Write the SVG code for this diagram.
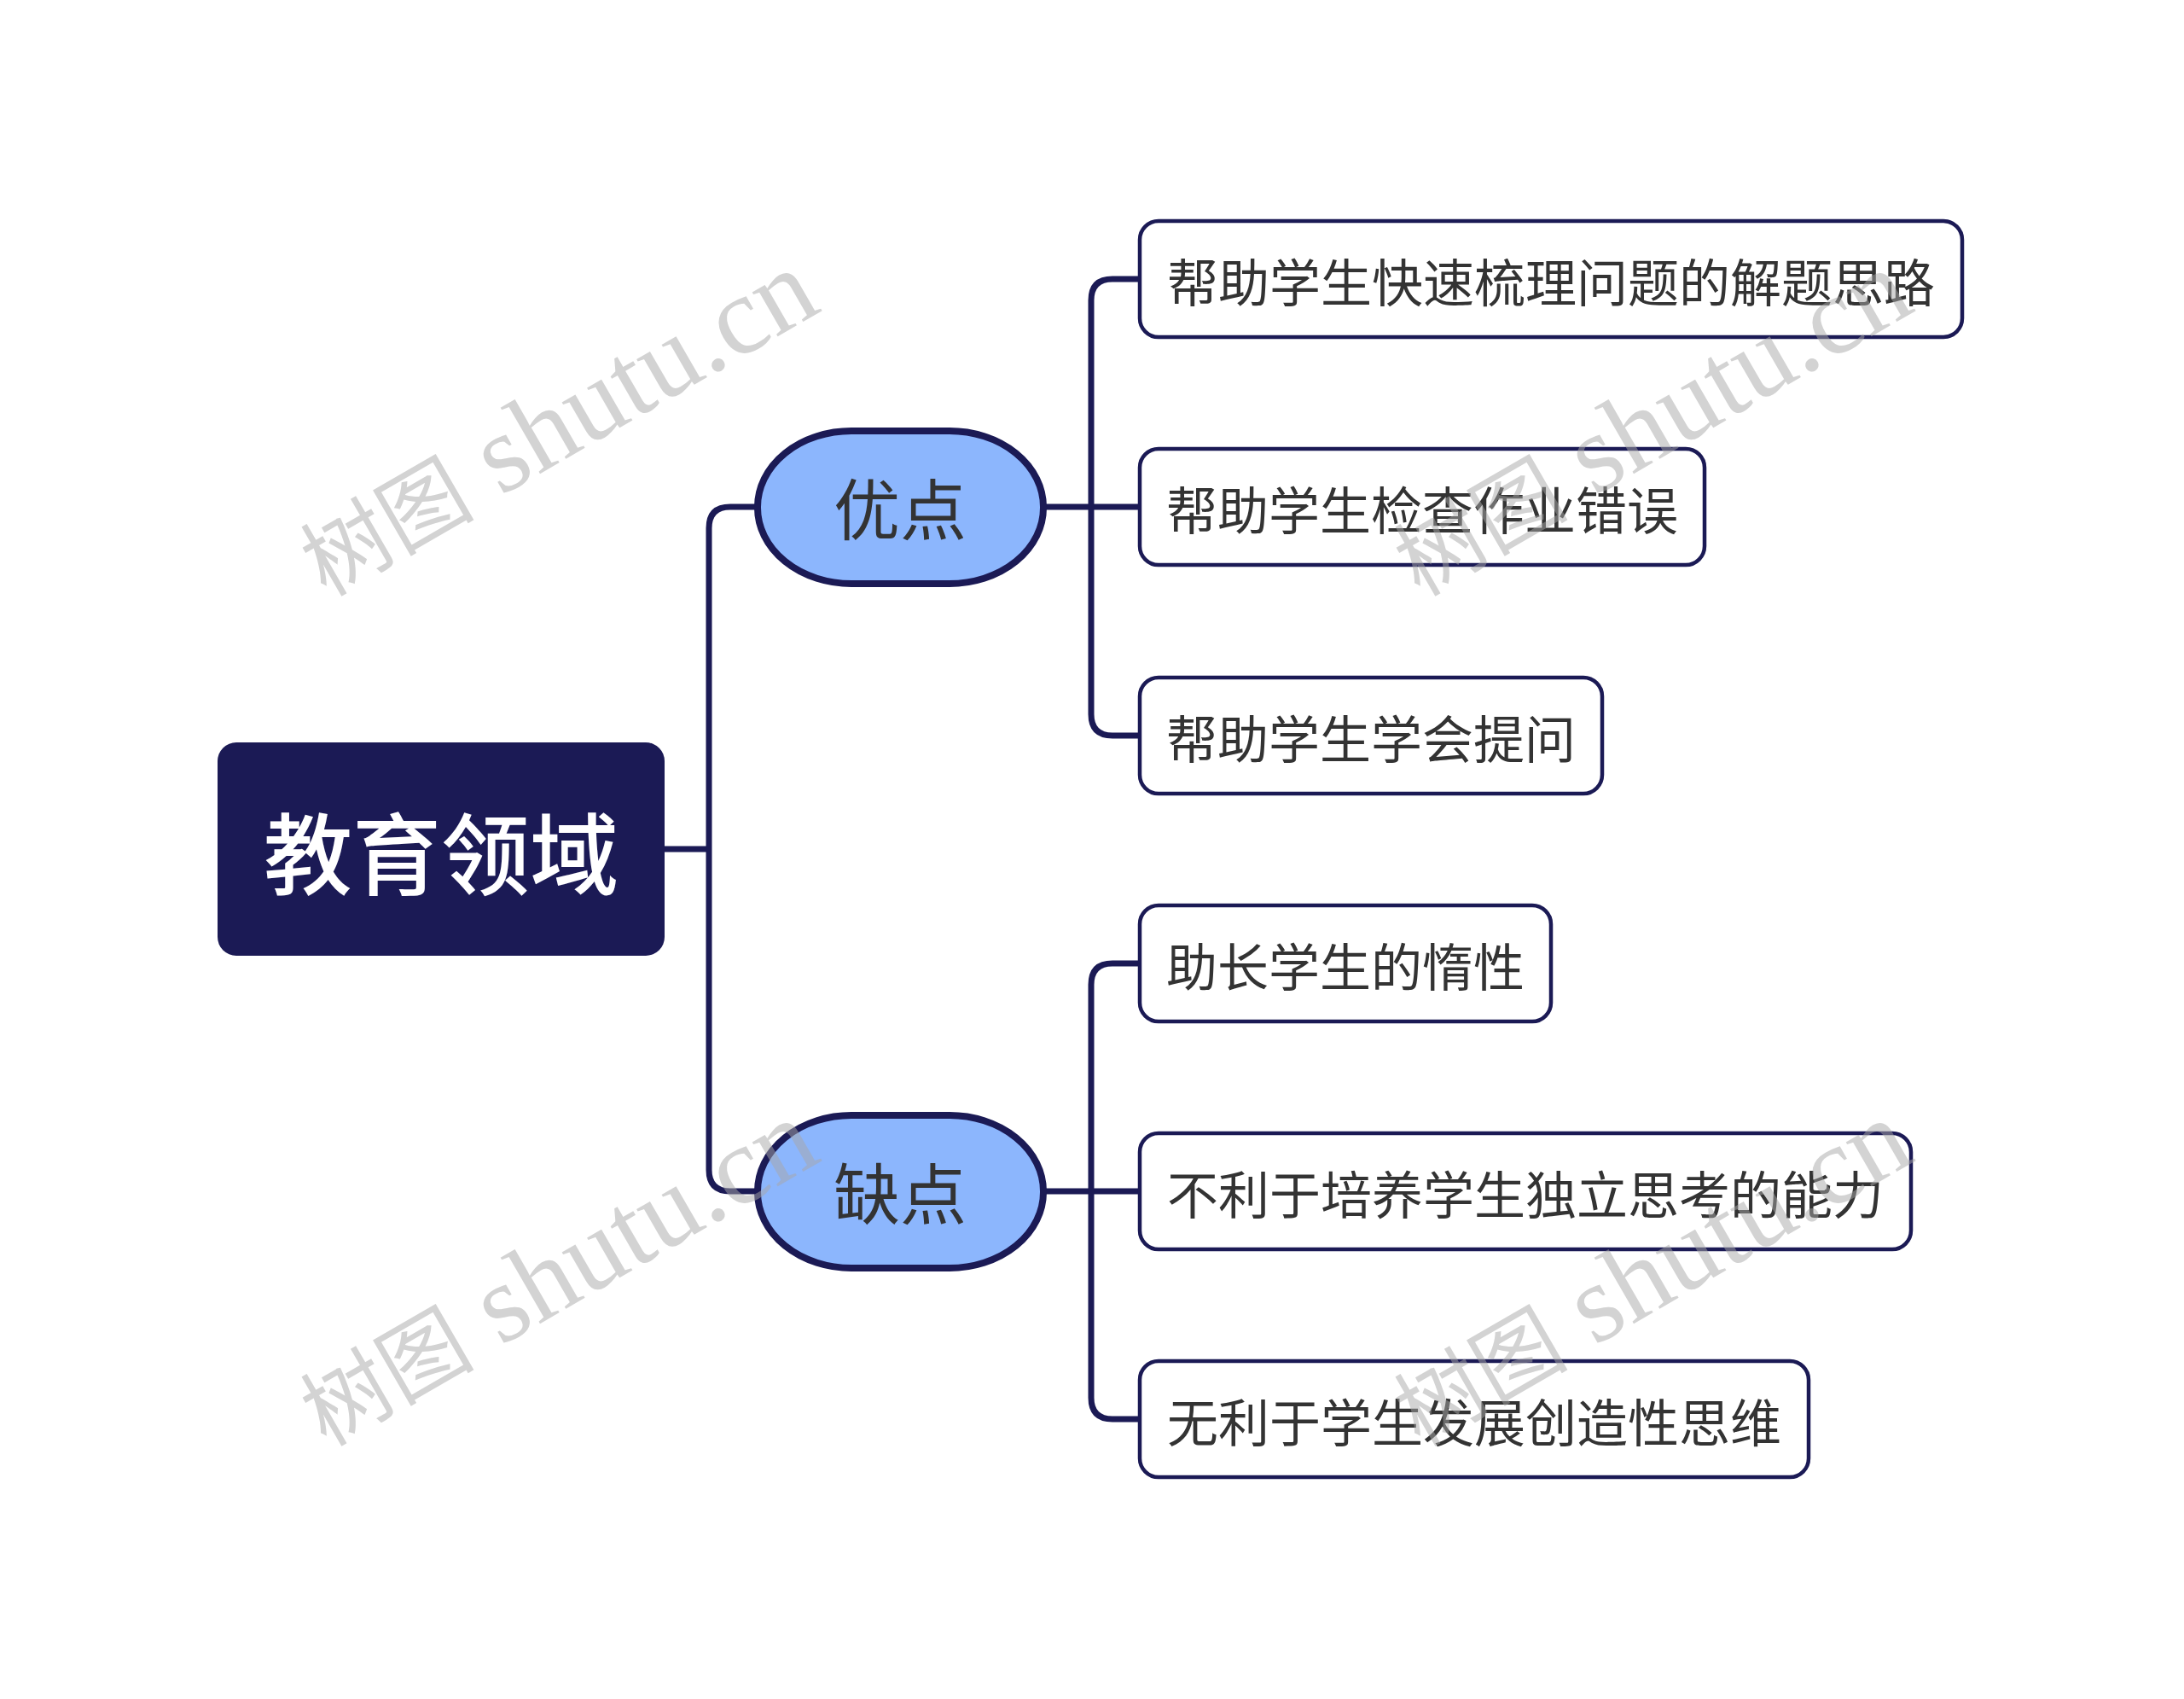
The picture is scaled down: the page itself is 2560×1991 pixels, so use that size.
<svg xmlns="http://www.w3.org/2000/svg" width="2560" height="1991" viewBox="0 0 2560 1991">
<style>
.conn{fill:none;stroke:#1B1A55;stroke-width:7;}
.leaf rect{fill:#FFFFFF;stroke:#1B1A55;stroke-width:4.5;}
.leaf text{font-family:"Noto Sans CJK SC","Noto Sans",sans-serif;font-size:60px;fill:#333333;text-anchor:middle;dominant-baseline:central;}
.l1 rect{fill:#8CB6FD;stroke:#1B1A55;stroke-width:8;}
.l1 text{font-family:"Noto Sans CJK SC","Noto Sans",sans-serif;font-size:78px;fill:#333333;text-anchor:middle;dominant-baseline:central;}
.wm{font-family:"Liberation Serif","Noto Sans CJK SC",serif;font-size:130px;fill:#A8A8A8;opacity:0.5;}
.wm .cjk{font-size:102px;}
</style>
<rect x="0" y="0" width="2560" height="1991" fill="#FFFFFF"/>
<g id="connectors">
<path class="conn" d="M779 995 H831"/>
<path class="conn" d="M886 594 H856 Q831 594 831 619 V1371 Q831 1396 856 1396 H886"/>
<path class="conn" d="M1224 594 H1336"/>
<path class="conn" d="M1336 327 H1304 Q1279 327 1279 352 V837 Q1279 862 1304 862 H1336"/>
<path class="conn" d="M1224 1396 H1336"/>
<path class="conn" d="M1336 1129 H1304 Q1279 1129 1279 1154 V1638 Q1279 1663 1304 1663 H1336"/>
</g>
<g id="root">
<rect x="255" y="870" width="524" height="250" rx="22" fill="#1B1A55"/>
<text x="517" y="995" font-family="Noto Sans CJK SC, Noto Sans, sans-serif" font-size="104" font-weight="500" fill="#FFFFFF" text-anchor="middle" dominant-baseline="central">教育领域</text>
</g>
<g id="n-youdian" class="l1">
<rect x="888" y="505" width="335" height="179" rx="110" ry="89"/>
<text x="1055" y="593">优点</text>
</g>
<g id="n-quedian" class="l1">
<rect x="888" y="1307" width="335" height="179" rx="110" ry="89"/>
<text x="1055" y="1395">缺点</text>
</g>
<g id="leaf1" class="leaf">
<rect x="1336" y="259" width="964" height="136" rx="22"/>
<text x="1818" y="327">帮助学生快速梳理问题的解题思路</text>
</g>
<g id="leaf2" class="leaf">
<rect x="1336" y="526" width="662" height="136" rx="22"/>
<text x="1667" y="594">帮助学生检查作业错误</text>
</g>
<g id="leaf3" class="leaf">
<rect x="1336" y="794" width="542" height="136" rx="22"/>
<text x="1607" y="862">帮助学生学会提问</text>
</g>
<g id="leaf4" class="leaf">
<rect x="1336" y="1061" width="482" height="136" rx="22"/>
<text x="1577" y="1129">助长学生的惰性</text>
</g>
<g id="leaf5" class="leaf">
<rect x="1336" y="1328" width="904" height="136" rx="22"/>
<text x="1788" y="1396">不利于培养学生独立思考的能力</text>
</g>
<g id="leaf6" class="leaf">
<rect x="1336" y="1595" width="784" height="136" rx="22"/>
<text x="1728" y="1663">无利于学生发展创造性思维</text>
</g>
<g id="watermarks">
<text class="wm" transform="translate(382 700) rotate(-30)"><tspan class="cjk">树图</tspan> shutu.cn</text>
<text class="wm" transform="translate(1664 700) rotate(-30)"><tspan class="cjk">树图</tspan> shutu.cn</text>
<text class="wm" transform="translate(382 1696) rotate(-30)"><tspan class="cjk">树图</tspan> shutu.cn</text>
<text class="wm" transform="translate(1664 1696) rotate(-30)"><tspan class="cjk">树图</tspan> shutu.cn</text>
</g>
</svg>
